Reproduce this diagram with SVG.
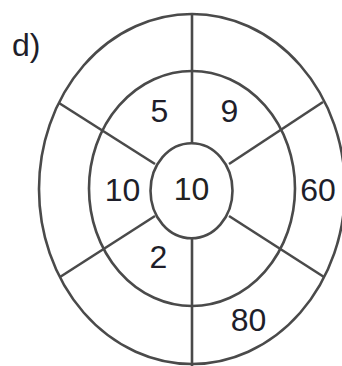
<svg xmlns="http://www.w3.org/2000/svg" width="342" height="366" viewBox="0 0 342 366">
<style>
.ring{fill:none;stroke:#4a4a4a;stroke-width:2.6}
.sp{stroke:#4a4a4a;stroke-width:2.6;fill:none}
.t{font-family:"Liberation Sans",Arial,sans-serif;font-size:32px;fill:#1e1e2a;text-anchor:middle}
</style>
<rect width="342" height="366" fill="#fff"/>
<text class="t" x="12" y="56" style="text-anchor:start">d)</text>
<g id="rings">
<ellipse class="ring" cx="192" cy="189" rx="153" ry="175"/>
<ellipse class="ring" cx="192" cy="188.5" rx="103" ry="117.5"/>
</g>
<g id="connectors">
<line class="sp" x1="192" y1="14" x2="192" y2="143"/>
<line class="sp" x1="192" y1="238" x2="192" y2="366"/>
<line class="sp" x1="229" y1="164" x2="323" y2="102"/>
<line class="sp" x1="229" y1="216" x2="324" y2="277"/>
<line class="sp" x1="155" y1="164" x2="59" y2="103"/>
<line class="sp" x1="155" y1="216" x2="60" y2="277"/>
</g>
<g id="center">
<ellipse class="ring" cx="191.5" cy="190.8" rx="41" ry="47.5" fill="#fff"/>
<text class="t" x="191.5" y="199.5" style="fill:#222">10</text>
</g>
<g id="seg-5"><text class="t" x="159.5" y="121.5">5</text></g>
<g id="seg-9"><text class="t" x="229.5" y="121.5">9</text></g>
<g id="seg-10"><text class="t" x="122.5" y="200.5">10</text></g>
<g id="seg-60"><text class="t" x="318" y="200.5">60</text></g>
<g id="seg-2"><text class="t" x="158.5" y="267.5">2</text></g>
<g id="seg-80"><text class="t" x="248.5" y="330.5">80</text></g>
</svg>
